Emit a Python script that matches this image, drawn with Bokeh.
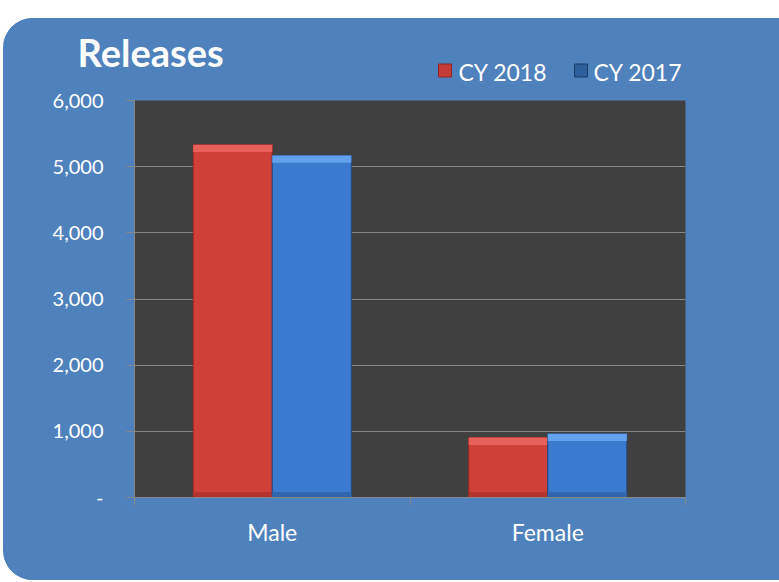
from bokeh.plotting import figure
from bokeh.models import (ColumnDataSource, FixedTicker, NumeralTickFormatter, Spacer)
from bokeh.layouts import column, row
from bokeh.transform import dodge
from bokeh.core.properties import value
from bokeh.embed import file_html
from bokeh.resources import INLINE

chart_title = "Releases"
categories = ["Male", "Female"]
series_names = ["CY 2018", "CY 2017"]
cy2018 = [5330, 905]
cy2017 = [5170, 965]
y_ticks = [0, 1000, 2000, 3000, 4000, 5000, 6000]

BLUE_BG = "#4F81BD"
DARK = "#404040"
GRID = "#878787"
FONT = "Lato"
RED = "#D0403B"
RED_HI = "#E8605B"
RED_LO = "#B23431"
RED_EDGE = "#8E2522"
BLU = "#3A7BCF"
BLU_HI = "#62A2EC"
BLU_LO = "#2F66AD"
BLU_EDGE = "#22497E"

W = 776
HH = 68

# ---------- header (title + legend) ----------
h = figure(width=W, height=HH, x_range=(0, W), y_range=(HH, 0),
           output_backend="svg", toolbar_location=None,
           min_border=0, min_border_left=0, min_border_right=0,
           min_border_top=0, min_border_bottom=0)
h.frame_align = False
h.title.visible = False
h.axis.visible = False
h.grid.visible = False
h.border_fill_color = BLUE_BG
h.background_fill_color = BLUE_BG
h.outline_line_color = None

h.text(x=[74], y=[33], text=[chart_title], text_color="white",
       text_font=value(FONT), text_font_style="bold", text_font_size="38px",
       text_baseline="alphabetic")
leg_sq_x = [441.5, 577.5]
leg_tx_x = [455, 590]
h.rect(x=leg_sq_x, y=[52, 52], width=13, height=13,
       fill_color=["#C63B36", "#2E5F9C"], line_color=[RED_EDGE, "#1B3B66"])
h.text(x=leg_tx_x, y=[53, 53], text=series_names, text_color="white",
       text_font=value(FONT), text_font_size="23px", text_baseline="alphabetic")

# ---------- main chart ----------
xs = [i + 0.5 for i in range(len(categories))]
bevel = 110
base = 80
src = ColumnDataSource(dict(
    x=xs, a=cy2018, b=cy2017,
    a_hi=[v - bevel for v in cy2018], b_hi=[v - bevel for v in cy2017],
    lo=[base] * len(categories),
))

p = figure(width=W, height=494, x_range=(0, len(categories)), y_range=(0, 6000),
           output_backend="svg", toolbar_location=None,
           min_border_left=131, min_border_right=94, min_border_top=14, min_border_bottom=83)
p.frame_align = False
p.title.visible = False
p.border_fill_color = BLUE_BG
p.background_fill_color = DARK
p.outline_line_color = None

w = 0.287
off = 0.1435
p.vbar(x=dodge("x", -off), top="a", width=w, source=src,
       fill_color=RED, line_color=RED_EDGE, line_width=1)
p.vbar(x=dodge("x", -off), top="a", bottom="a_hi", width=w, source=src,
       fill_color=RED_HI, line_color=None)
p.vbar(x=dodge("x", -off), top="lo", width=w, source=src,
       fill_color=RED_LO, line_color=None)
p.vbar(x=dodge("x", off), top="b", width=w, source=src,
       fill_color=BLU, line_color=BLU_EDGE, line_width=1)
p.vbar(x=dodge("x", off), top="b", bottom="b_hi", width=w, source=src,
       fill_color=BLU_HI, line_color=None)
p.vbar(x=dodge("x", off), top="lo", width=w, source=src,
       fill_color=BLU_LO, line_color=None)

# y axis
p.yaxis.ticker = FixedTicker(ticks=y_ticks)
p.yaxis.formatter = NumeralTickFormatter(format="0,0")
p.yaxis.major_label_overrides = {0: "-"}
p.yaxis.axis_line_color = GRID
p.yaxis.major_tick_line_color = GRID
p.yaxis.major_tick_out = 8
p.yaxis.major_tick_in = 0
p.yaxis.minor_tick_line_color = None
p.yaxis.major_label_standoff = 23
p.yaxis.major_label_text_color = "white"
p.yaxis.major_label_text_font = FONT
p.yaxis.major_label_text_font_size = "20px"

# x axis
p.xaxis.ticker = FixedTicker(ticks=xs, minor_ticks=list(range(len(categories) + 1)))
p.xaxis.major_label_overrides = {x: c for x, c in zip(xs, categories)}
p.xaxis.axis_line_color = GRID
p.xaxis.major_tick_line_color = None
p.xaxis.minor_tick_line_color = GRID
p.xaxis.minor_tick_out = 8
p.xaxis.minor_tick_in = 0
p.xaxis.major_label_standoff = 12
p.xaxis.major_label_text_color = "white"
p.xaxis.major_label_text_font = FONT
p.xaxis.major_label_text_font_size = "23px"

p.xgrid.grid_line_color = None
p.ygrid.grid_line_color = GRID
p.ygrid.grid_line_width = 1

card = column(h, p, spacing=0,
              styles={"background-color": BLUE_BG, "border-radius": "30px 0 0 30px",
                      "overflow": "hidden"})
layout = row(Spacer(width=3, height=10),
             column(Spacer(width=W, height=18), card, spacing=0), spacing=0)
open("out.html", "w").write(file_html(layout, INLINE))
